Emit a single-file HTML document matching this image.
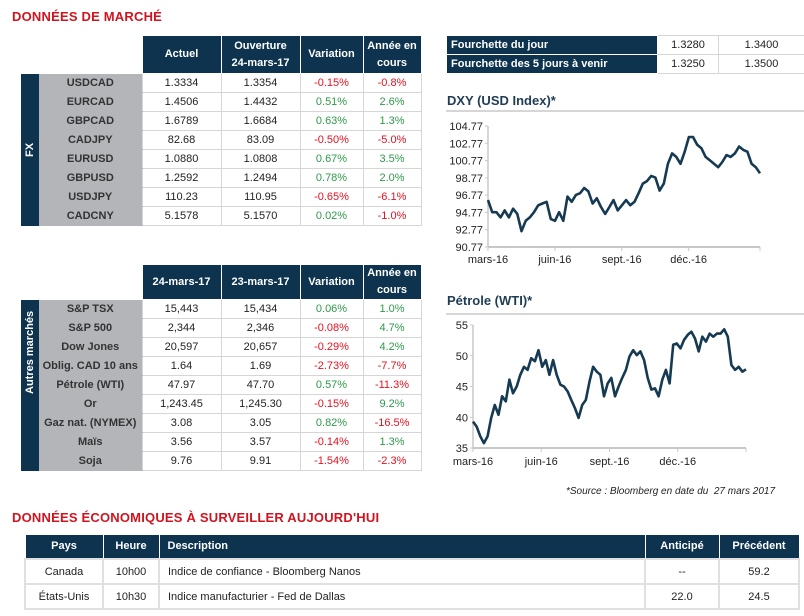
<!DOCTYPE html>
<html><head><meta charset="utf-8">
<style>
*{box-sizing:border-box;margin:0;padding:0}
body{width:804px;height:616px;background:#fff;position:relative;overflow:hidden;font-family:"Liberation Sans",sans-serif;color:#222}
.t{position:absolute;font-weight:bold;color:#d0141f;font-size:13px;letter-spacing:0.2px}
table{position:absolute;border-collapse:collapse;table-layout:fixed;font-size:11px}
td,th{text-align:center;padding:0;overflow:hidden;white-space:nowrap}
th{background:#0d334f;color:#fff;font-weight:bold;border:1px solid #fff;line-height:17px}
td.d{border:1px solid #d6d6d6;background:#fff}
td.l{background:#b3b5b8;font-weight:bold;color:#333;border-bottom:1px solid #b3b5b8}
td.bar{background:#0d334f;color:#fff;font-weight:bold}
td.bar div{transform:rotate(-90deg);white-space:nowrap}
.r{color:#e8101e}.g{color:#2e9a4a}
.ft td{border:1px solid #d6d6d6}
.ft td.h{background:#0d334f;color:#fff;font-weight:bold;text-align:left;padding-left:4px;border:1px solid #fff}
svg{position:absolute}
.eco th{line-height:23px;font-size:11px}
.eco td{border:2px solid #e0e0e0;height:25px}
</style></head><body>
<div class="t" style="left:12px;top:9px">DONNÉES DE MARCHÉ</div>

<table style="left:21px;top:35px;width:400px">
<colgroup><col style="width:18px"><col style="width:103px"><col style="width:79px"><col style="width:79px"><col style="width:63px"><col style="width:58px"></colgroup>
<tr style="height:38px"><td colspan="2" style="border:none"></td><th>Actuel</th><th>Ouverture<br>24-mars-17</th><th>Variation</th><th>Année en<br>cours</th></tr>
<tr style="height:19px"><td class="bar" rowspan="8"><div>FX</div></td><td class="l">USDCAD</td><td class="d">1.3334</td><td class="d">1.3354</td><td class="d r">-0.15%</td><td class="d r">-0.8%</td></tr>
<tr style="height:19px"><td class="l">EURCAD</td><td class="d">1.4506</td><td class="d">1.4432</td><td class="d g">0.51%</td><td class="d g">2.6%</td></tr>
<tr style="height:19px"><td class="l">GBPCAD</td><td class="d">1.6789</td><td class="d">1.6684</td><td class="d g">0.63%</td><td class="d g">1.3%</td></tr>
<tr style="height:19px"><td class="l">CADJPY</td><td class="d">82.68</td><td class="d">83.09</td><td class="d r">-0.50%</td><td class="d r">-5.0%</td></tr>
<tr style="height:19px"><td class="l">EURUSD</td><td class="d">1.0880</td><td class="d">1.0808</td><td class="d g">0.67%</td><td class="d g">3.5%</td></tr>
<tr style="height:19px"><td class="l">GBPUSD</td><td class="d">1.2592</td><td class="d">1.2494</td><td class="d g">0.78%</td><td class="d g">2.0%</td></tr>
<tr style="height:19px"><td class="l">USDJPY</td><td class="d">110.23</td><td class="d">110.95</td><td class="d r">-0.65%</td><td class="d r">-6.1%</td></tr>
<tr style="height:19px"><td class="l">CADCNY</td><td class="d">5.1578</td><td class="d">5.1570</td><td class="d g">0.02%</td><td class="d r">-1.0%</td></tr>
</table>

<table style="left:21px;top:264px;width:400px">
<colgroup><col style="width:18px"><col style="width:103px"><col style="width:79px"><col style="width:79px"><col style="width:63px"><col style="width:58px"></colgroup>
<tr style="height:33px"><td colspan="2" style="border:none"></td><th>24-mars-17</th><th>23-mars-17</th><th>Variation</th><th>Année en<br>cours</th></tr>
<tr style="height:19px"><td class="bar" rowspan="9"><div>Autres marchés</div></td><td class="l">S&amp;P TSX</td><td class="d">15,443</td><td class="d">15,434</td><td class="d g">0.06%</td><td class="d g">1.0%</td></tr>
<tr style="height:19px"><td class="l">S&amp;P 500</td><td class="d">2,344</td><td class="d">2,346</td><td class="d r">-0.08%</td><td class="d g">4.7%</td></tr>
<tr style="height:19px"><td class="l">Dow Jones</td><td class="d">20,597</td><td class="d">20,657</td><td class="d r">-0.29%</td><td class="d g">4.2%</td></tr>
<tr style="height:19px"><td class="l">Oblig. CAD 10 ans</td><td class="d">1.64</td><td class="d">1.69</td><td class="d r">-2.73%</td><td class="d r">-7.7%</td></tr>
<tr style="height:19px"><td class="l">Pétrole (WTI)</td><td class="d">47.97</td><td class="d">47.70</td><td class="d g">0.57%</td><td class="d r">-11.3%</td></tr>
<tr style="height:19px"><td class="l">Or</td><td class="d">1,243.45</td><td class="d">1,245.30</td><td class="d r">-0.15%</td><td class="d g">9.2%</td></tr>
<tr style="height:19px"><td class="l">Gaz nat. (NYMEX)</td><td class="d">3.08</td><td class="d">3.05</td><td class="d g">0.82%</td><td class="d r">-16.5%</td></tr>
<tr style="height:19px"><td class="l">Maïs</td><td class="d">3.56</td><td class="d">3.57</td><td class="d r">-0.14%</td><td class="d g">1.3%</td></tr>
<tr style="height:19px"><td class="l">Soja</td><td class="d">9.76</td><td class="d">9.91</td><td class="d r">-1.54%</td><td class="d r">-2.3%</td></tr>
</table>

<table class="ft" style="left:446px;top:35px;width:358px">
<colgroup><col style="width:211px"><col style="width:61px"><col style="width:86px"></colgroup>
<tr style="height:19px"><td class="h">Fourchette du jour</td><td>1.3280</td><td>1.3400</td></tr>
<tr style="height:19px"><td class="h">Fourchette des 5 jours à venir</td><td>1.3250</td><td>1.3500</td></tr>
</table>

<svg id="dxy" style="left:440px;top:88px" width="364" height="182"></svg>
<svg id="oil" style="left:440px;top:288px" width="364" height="182"></svg>

<div style="position:absolute;left:566px;top:486px;font-size:10px;font-style:italic;color:#222">*Source : Bloomberg en date du &nbsp;27 mars 2017</div>

<div class="t" style="left:12px;top:510px">DONNÉES ÉCONOMIQUES À SURVEILLER AUJOURD'HUI</div>
<table class="eco" style="left:24px;top:534px;width:774px">
<colgroup><col style="width:78px"><col style="width:56px"><col style="width:486px"><col style="width:74px"><col style="width:80px"></colgroup>
<tr><th>Pays</th><th>Heure</th><th style="text-align:left;padding-left:8px">Description</th><th>Anticipé</th><th>Précédent</th></tr>
<tr><td>Canada</td><td>10h00</td><td style="text-align:left;padding-left:8px">Indice de confiance - Bloomberg Nanos</td><td>--</td><td>59.2</td></tr>
<tr><td>États-Unis</td><td>10h30</td><td style="text-align:left;padding-left:8px">Indice manufacturier - Fed de Dallas</td><td>22.0</td><td>24.5</td></tr>
</table>

<script>
const dxyValues=[96.2,94.8,94.8,94.2,95.0,94.2,95.2,94.6,92.6,93.8,94.2,94.8,95.6,95.8,96.0,94.0,93.8,94.8,93.8,96.6,96.0,96.8,97.0,97.6,97.2,95.8,96.4,95.4,94.6,95.4,96.2,95.0,95.6,96.2,95.6,96.0,97.0,98.1,98.4,99.0,98.8,97.3,98.1,100.4,101.6,101.2,100.4,101.8,103.5,103.5,102.6,102.2,101.2,100.8,100.4,100.0,100.6,101.4,101.2,101.6,102.4,102.0,101.8,100.4,100.0,99.3];
const dxyTicks=[104.77,102.77,100.77,98.77,96.77,94.77,92.77,90.77];
const oilValues=[39.3,38.5,36.9,35.8,36.9,39.9,42.0,40.4,43.4,42.6,46.1,43.9,45.0,46.9,48.2,47.7,49.6,49.1,50.9,48.2,49.3,46.9,49.3,46.9,45.3,45.0,44.2,42.8,41.5,39.9,42.0,42.8,45.8,48.2,47.4,46.9,43.4,45.5,46.4,43.4,45.0,46.4,47.7,49.9,50.9,50.1,50.7,49.3,46.4,44.5,44.7,43.4,46.1,47.7,45.5,51.8,52.0,51.2,52.6,53.4,53.9,52.8,50.7,53.1,52.3,53.6,53.1,53.6,53.6,54.3,53.1,48.5,47.7,48.2,47.4,47.8];
const oilTicks=[55,50,45,40,35];
const monthLabels=["mars-16","juin-16","sept.-16","déc.-16"];
const monthIdx=[0,3,6,9];
const NS="http://www.w3.org/2000/svg";
function mk(p,tag,a){const e=document.createElementNS(NS,tag);for(const k in a)e.setAttribute(k,a[k]);p.appendChild(e);return e;}
function chart(svg,o){
  const sx=m=>o.x0+(m/o.span)*(o.x1-o.x0);
  const sy=v=>o.yb+(v-o.vmin)/(o.vmax-o.vmin)*(o.yt-o.yb);
  const t=mk(svg,'text',{x:7,y:o.ty,'font-size':13,'font-weight':'bold',fill:'#1f3d55'});
  t.textContent=o.title;
  
  
  mk(svg,'line',{x1:6,x2:364,y1:o.ly,y2:o.ly,stroke:'#c8c8c8','stroke-width':1.5});
  mk(svg,'line',{x1:o.x0,x2:o.x0,y1:o.yt,y2:o.yb,stroke:'#c8c8c8','stroke-width':1.5});
  mk(svg,'line',{x1:o.x0,x2:o.x1,y1:o.yb,y2:o.yb,stroke:'#c8c8c8','stroke-width':2});
  o.ticks.forEach(v=>{
    const y=sy(v);
    mk(svg,'line',{x1:o.x0-3,x2:o.x0,y1:y,y2:y,stroke:'#c8c8c8'});
    const tx=mk(svg,'text',{x:o.x0-5,y:y+4,'font-size':11,'text-anchor':'end',fill:'#222'});
    tx.textContent=String(v);
    
    
  });
  monthIdx.forEach((m,i)=>{
    const x=sx(m);
    mk(svg,'line',{x1:x,x2:x,y1:o.yb,y2:o.yb+4,stroke:'#c8c8c8'});
    const tx=mk(svg,'text',{x:x,y:o.xl,'font-size':11,'text-anchor':'middle',fill:'#222'});
    tx.textContent=monthLabels[i];
    
    
  });
  mk(svg,'line',{x1:o.x1,x2:o.x1,y1:o.yb,y2:o.yb+4,stroke:'#c8c8c8'});
  const n=o.vals.length;
  const pts=o.vals.map((v,i)=>sx(i/(n-1)*o.span).toFixed(1)+','+sy(v).toFixed(1)).join(' ');
  const pl=mk(svg,'polyline',{points:pts,fill:'none',stroke:'#163a52','stroke-width':2.6,'stroke-linejoin':'round'});
  
  
}
chart(document.getElementById('dxy'),{title:'DXY  (USD Index)*',ty:17,ly:23,x0:48,x1:320,span:12.2,yt:38,yb:159,vmin:90.77,vmax:104.77,ticks:dxyTicks,vals:dxyValues,xl:175});
chart(document.getElementById('oil'),{title:'Pétrole (WTI)*',ty:17,ly:26,x0:33,x1:306,span:12.0,yt:37,yb:160,vmin:35,vmax:55,ticks:oilTicks,vals:oilValues,xl:177});
</script>
</body></html>
